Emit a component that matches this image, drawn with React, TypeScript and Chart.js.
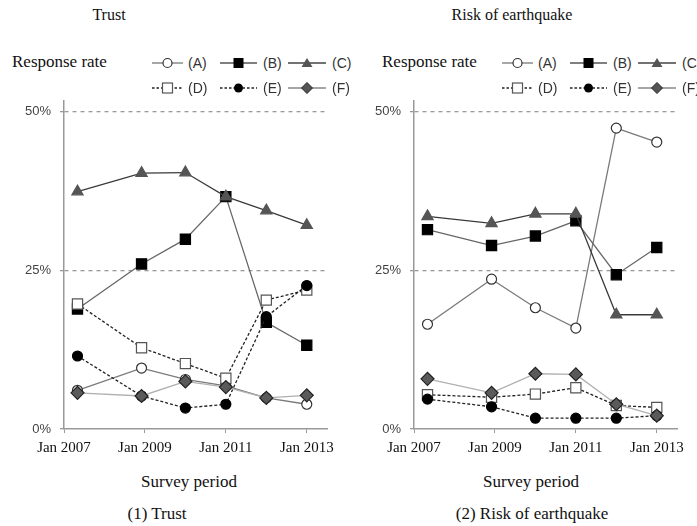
import React, { useEffect, useRef } from "react";
import { Chart, registerables } from "chart.js";
Chart.register(...registerables);

// months since Jan 2007 at which each survey was carried out
const surveyMonths = [4, 23, 36, 48, 60, 72];
const xTickValues = [0, 24, 48, 72];
const xTickLabels = ["Jan 2007", "Jan 2009", "Jan 2011", "Jan 2013"];
const yTickValues = [0, 25, 50];
const yTickLabels = ["0%", "25%", "50%"];
const seriesNames = ["(A)", "(B)", "(C)", "(D)", "(E)", "(F)"];

// (1) Trust — response rate (%)
const trustA = [6.1, 9.6, 7.8, 6.8, 4.9, 3.9];
const trustB = [18.9, 26.0, 29.9, 36.6, 16.8, 13.2];
const trustC = [37.4, 40.3, 40.4, 36.6, 34.4, 32.1];
const trustD = [19.7, 12.8, 10.3, 8.0, 20.3, 21.9];
const trustE = [11.5, 5.2, 3.3, 3.9, 17.7, 22.6];
const trustF = [5.7, 5.2, 7.5, 6.6, 4.9, 5.3];

// (2) Risk of earthquake — response rate (%)
const quakeA = [16.5, 23.6, 19.1, 15.9, 47.4, 45.2];
const quakeB = [31.4, 28.9, 30.4, 32.8, 24.3, 28.6];
const quakeC = [33.5, 32.4, 33.9, 33.9, 18.0, 18.0];
const quakeD = [5.4, 5.0, 5.5, 6.5, 3.7, 3.4];
const quakeE = [4.7, 3.5, 1.7, 1.7, 1.7, 2.1];
const quakeF = [7.9, 5.7, 8.7, 8.6, 3.9, 2.1];

const seriesStyles: any[] = [
  { borderColor: "#7a7a7a", borderDash: [], pointStyle: "circle", pointRadius: 5, pointBackgroundColor: "#ffffff", pointBorderColor: "#333333", order: 5 },
  { borderColor: "#666666", borderDash: [], pointStyle: "rect", pointRadius: 7.2, pointBackgroundColor: "#000000", pointBorderColor: "#000000", order: 4 },
  { borderColor: "#3a3a3a", borderDash: [], pointStyle: "triangle", pointRadius: 6.5, pointBackgroundColor: "#555555", pointBorderColor: "#555555", order: 3 },
  { borderColor: "#222222", borderDash: [3, 2], pointStyle: "rect", pointRadius: 7.2, pointBackgroundColor: "#ffffff", pointBorderColor: "#555555", order: 2 },
  { borderColor: "#222222", borderDash: [3, 2], pointStyle: "circle", pointRadius: 5, pointBackgroundColor: "#000000", pointBorderColor: "#000000", order: 1 },
  { borderColor: "#b0b0b0", borderDash: [], pointStyle: "rectRot", pointRadius: 6.5, pointBackgroundColor: "#5a5a5a", pointBorderColor: "#222222", order: 0 },
];

function Panel({ left, values }: { left: number; values: number[][] }) {
  const ref = useRef<HTMLCanvasElement>(null);
  useEffect(() => {
    const chart = new Chart(ref.current as HTMLCanvasElement, {
      type: "line",
      data: {
        datasets: values.map((v, i) => ({
          label: seriesNames[i],
          data: v.map((y, j) => ({ x: surveyMonths[j], y })),
          borderWidth: 1.3,
          pointBorderWidth: 1.2,
          fill: false,
          tension: 0,
          ...seriesStyles[i],
        })),
      },
      options: {
        responsive: false,
        animation: false,
        devicePixelRatio: 1,
        layout: { padding: { top: 10, right: 18, left: 0, bottom: 0 } },
        plugins: { legend: { display: false }, tooltip: { enabled: false } },
        scales: {
          x: {
            type: "linear",
            min: 0,
            max: 78,
            afterBuildTicks: (s: any) => {
              s.ticks = xTickValues.map((v) => ({ value: v }));
            },
            afterFit: (s: any) => {
              s.height = 30;
            },
            ticks: {
              autoSkip: false,
              maxRotation: 0,
              padding: 6,
              color: "#111",
              font: { family: "Liberation Serif", size: 15 },
              callback: (v: any) => {
                const k = xTickValues.indexOf(Number(v));
                return k >= 0 ? xTickLabels[k] : "";
              },
            },
            grid: { drawOnChartArea: false, drawTicks: true, tickLength: 4, color: "#999", tickColor: "#999" },
            border: { color: "#999", width: 1.5 },
          },
          y: {
            type: "linear",
            min: 0,
            max: 51.7,
            afterBuildTicks: (s: any) => {
              s.ticks = yTickValues.map((v) => ({ value: v }));
            },
            afterFit: (s: any) => {
              s.width = 64;
            },
            ticks: {
              padding: 9,
              color: "#444",
              font: { family: "Liberation Sans", size: 13 },
              callback: (v: any) => {
                const k = yTickValues.indexOf(Number(v));
                return k >= 0 ? yTickLabels[k] : "";
              },
            },
            grid: {
              color: (c: any) => (c.tick && c.tick.value === 0 ? "rgba(0,0,0,0)" : "#999"),
              tickColor: "#999",
              tickLength: 4,
              lineWidth: 1.3,
            },
            border: { color: "#999", width: 1.5, dash: [4, 4] },
          },
        },
      },
    } as any);
    return () => chart.destroy();
  }, []);
  return (
    <canvas
      ref={ref}
      width={345}
      height={375}
      style={{ position: "absolute", left, top: 84, width: 345, height: 375 }}
    />
  );
}

function Marker({ i }: { i: number }) {
  const cx = 17;
  const cy = 7;
  if (i === 0) return <circle cx={cx} cy={cy} r={4.5} fill="#fff" stroke="#333" strokeWidth={1.2} />;
  if (i === 1) return <rect x={cx - 5} y={cy - 5} width={10} height={10} fill="#000" />;
  if (i === 2) return <polygon points={`${cx - 5.5},${cy + 4} ${cx + 5.5},${cy + 4} ${cx},${cy - 5}`} fill="#555" />;
  if (i === 3) return <rect x={cx - 5} y={cy - 5} width={10} height={10} fill="#fff" stroke="#555" strokeWidth={1.2} />;
  if (i === 4) return <circle cx={cx} cy={cy} r={4.5} fill="#000" />;
  return <polygon points={`${cx - 5.5},${cy} ${cx},${cy - 5.5} ${cx + 5.5},${cy} ${cx},${cy + 5.5}`} fill="#555" stroke="#222" strokeWidth={1} />;
}

const legendLineStart = [152, 220, 288];
const legendLineWidth = [31, 37, 38];
const legendTextX = [188, 263, 332];
const legendRowY = [63, 88];
const legendLineColor = ["#777", "#555", "#444", "#222", "#222", "#888"];

function Legend({ dx }: { dx: number }) {
  return (
    <>
      {seriesNames.map((name, i) => {
        const col = i % 3;
        const row = Math.floor(i / 3);
        const w = legendLineWidth[col];
        const dashed = i === 3 || i === 4;
        return (
          <React.Fragment key={name}>
            <svg
              width={w}
              height={14}
              style={{ position: "absolute", left: dx + legendLineStart[col], top: legendRowY[row] - 7, overflow: "visible" }}
            >
              <line x1={0} y1={7} x2={w} y2={7} stroke={legendLineColor[i]} strokeWidth={1.3} strokeDasharray={dashed ? "2.5,2" : undefined} />
              <g transform={`translate(${(w - 34) / 2},0)`}>
                <Marker i={i} />
              </g>
            </svg>
            <div
              style={{
                position: "absolute",
                left: dx + legendTextX[col],
                top: legendRowY[row] - 9,
                fontFamily: "Liberation Sans",
                fontSize: 14,
                lineHeight: "18px",
                color: "#333",
                whiteSpace: "nowrap",
              }}
            >
              {name}
            </div>
          </React.Fragment>
        );
      })}
    </>
  );
}

const serif: React.CSSProperties = {
  position: "absolute",
  fontFamily: "Liberation Serif, 'Times New Roman', serif",
  color: "#111",
  whiteSpace: "nowrap",
  lineHeight: "17px",
  fontSize: 17,
};

function Centered({ text, cx, top, size }: { text: string; cx: number; top: number; size: number }) {
  return (
    <div style={{ ...serif, left: cx - 150, width: 300, textAlign: "center", top, fontSize: size }}>{text}</div>
  );
}

export default function App() {
  return (
    <div
      style={{
        position: "fixed",
        left: 0,
        top: 0,
        width: 697,
        height: 526,
        overflow: "hidden",
        background: "#fff",
      }}
    >
      <Panel left={0} values={[trustA, trustB, trustC, trustD, trustE, trustF]} />
      <Panel left={350} values={[quakeA, quakeB, quakeC, quakeD, quakeE, quakeF]} />

      <Centered text="Trust" cx={109} top={6} size={16} />
      <Centered text="Risk of earthquake" cx={512} top={6} size={16} />

      <div style={{ ...serif, left: 12, top: 53 }}>Response rate</div>
      <div style={{ ...serif, left: 382, top: 53 }}>Response rate</div>

      <Legend dx={0} />
      <Legend dx={350} />

      <Centered text="Survey period" cx={189} top={473} size={17} />
      <Centered text="Survey period" cx={531} top={473} size={17} />
      <Centered text="(1) Trust" cx={157} top={505} size={17} />
      <Centered text="(2) Risk of earthquake" cx={532} top={505} size={17} />
    </div>
  );
}
